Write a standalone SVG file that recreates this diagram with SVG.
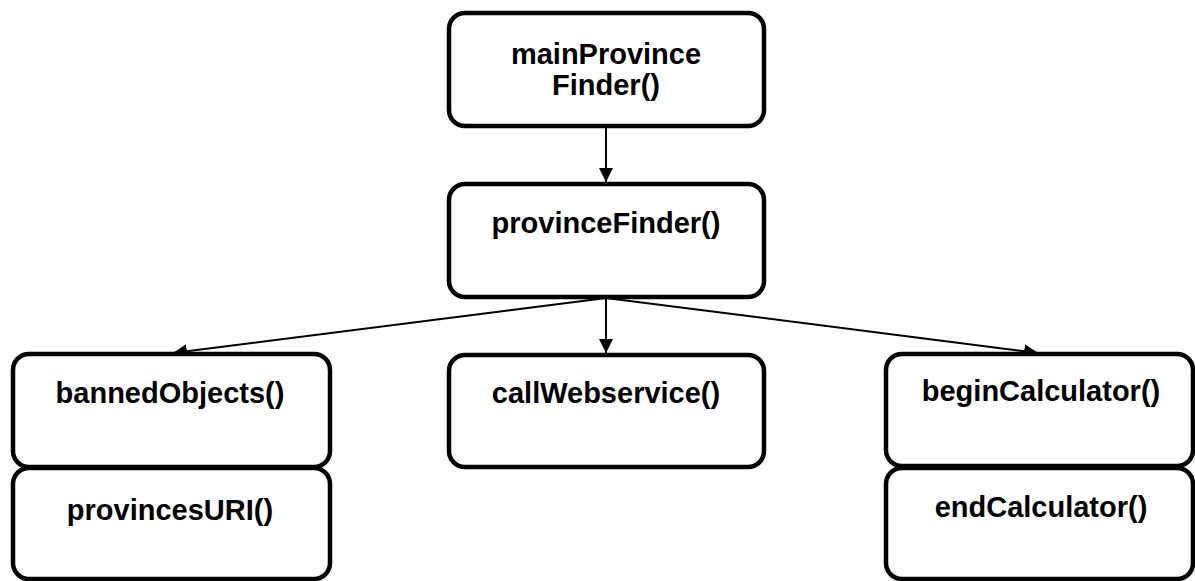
<svg xmlns="http://www.w3.org/2000/svg" width="1195" height="581" viewBox="0 0 1195 581">
  <style>
    .box { fill: #ffffff; stroke: #000000; stroke-width: 4.5; }
    .lbl { font-family: "Liberation Sans", Arial, sans-serif; font-weight: bold; font-size: 29px; fill: #000000; text-anchor: middle; }
    .conn { stroke: #000000; stroke-width: 2; fill: none; marker-end: url(#arrow); }
  </style>
  <defs>
    <marker id="arrow" markerUnits="userSpaceOnUse" markerWidth="16" markerHeight="14" refX="14" refY="7" orient="auto">
      <path d="M0,0 L14,7 L0,14 Z" fill="#000000"/>
    </marker>
  </defs>
  <rect width="1195" height="581" fill="#ffffff"/>
  <g id="connectors">
    <line class="conn" x1="606" y1="127" x2="606" y2="182"/>
    <line class="conn" x1="606" y1="298" x2="606" y2="353"/>
    <line class="conn" x1="606" y1="298" x2="173" y2="353"/>
    <line class="conn" x1="606" y1="298" x2="1038" y2="353"/>
  </g>
  <g id="mainProvinceFinder">
    <rect class="box" x="449" y="13" width="315" height="113" rx="16"/>
    <text class="lbl" x="606" y="64">mainProvince</text>
    <text class="lbl" x="606" y="95">Finder()</text>
  </g>
  <g id="provinceFinder">
    <rect class="box" x="449" y="184" width="315" height="113" rx="16"/>
    <text class="lbl" x="606" y="233">provinceFinder()</text>
  </g>
  <g id="callWebservice">
    <rect class="box" x="449" y="355" width="315" height="112" rx="16"/>
    <text class="lbl" x="606" y="403">callWebservice()</text>
  </g>
  <g id="bannedObjects">
    <rect class="box" x="13" y="354" width="317" height="113" rx="16"/>
    <text class="lbl" x="170" y="403">bannedObjects()</text>
  </g>
  <g id="provincesURI">
    <rect class="box" x="13" y="468" width="317" height="111" rx="16"/>
    <text class="lbl" x="170" y="520">provincesURI()</text>
  </g>
  <g id="beginCalculator">
    <rect class="box" x="886" y="354" width="307" height="112" rx="16"/>
    <text class="lbl" x="1041" y="401">beginCalculator()</text>
  </g>
  <g id="endCalculator">
    <rect class="box" x="886" y="468" width="307" height="111" rx="16"/>
    <text class="lbl" x="1041" y="517">endCalculator()</text>
  </g>
</svg>
